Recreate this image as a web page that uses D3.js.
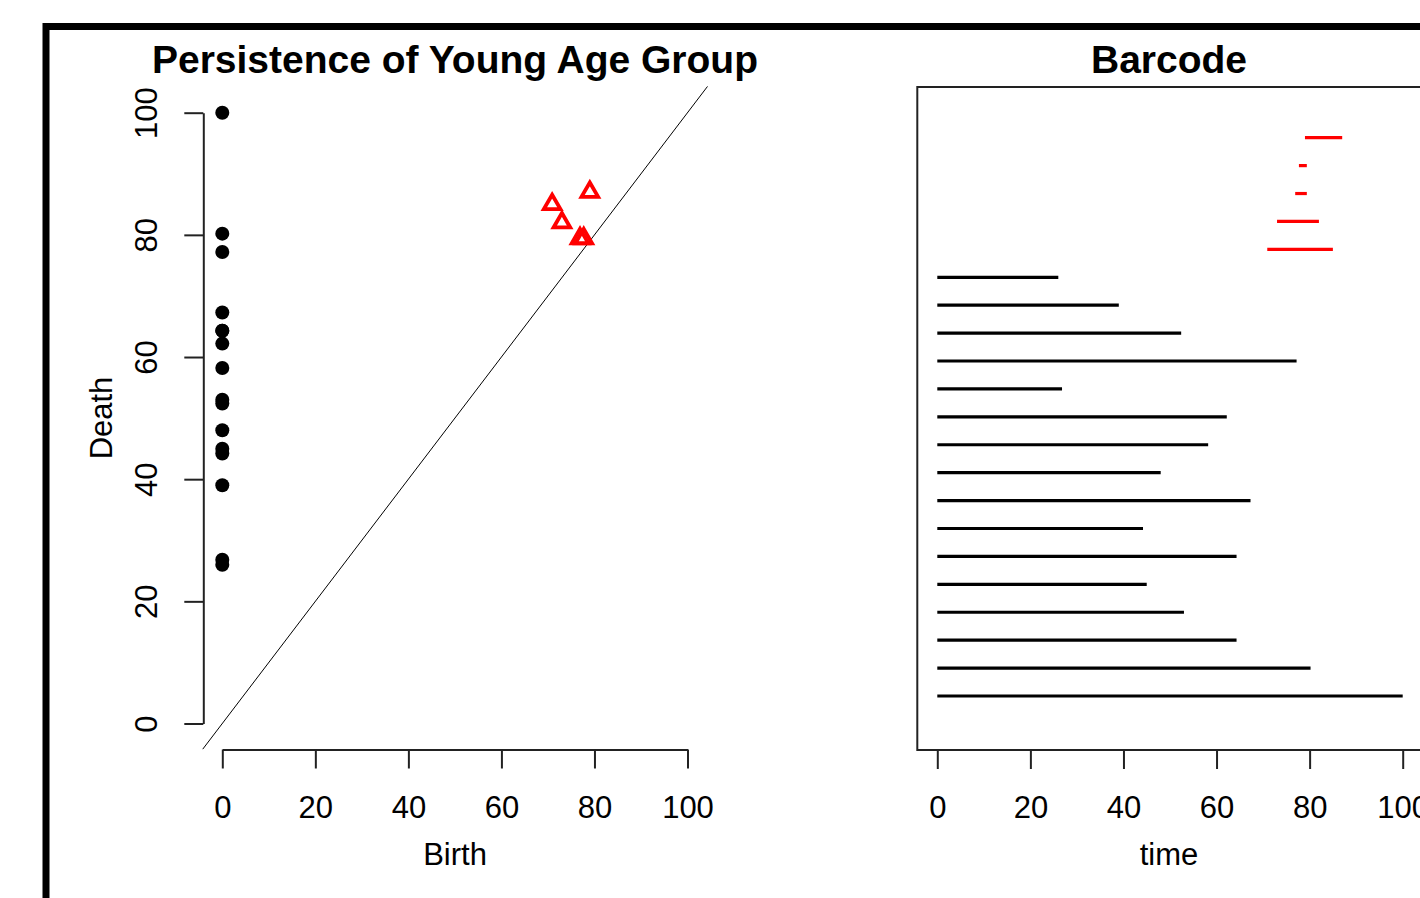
<!DOCTYPE html>
<html>
<head>
<meta charset="utf-8">
<script src="https://cdn.jsdelivr.net/npm/d3@7"></script>
<style>
  body { margin: 0; background: #fff; }
  svg text { font-family: Arial, "Liberation Sans", sans-serif; fill: #000; }
</style>
</head>
<body>
<svg id="chart" width="1420" height="898"></svg>
<script>
// dimension 0 features (all born at 0), in diagram order
const h0Birth = [0, 0, 0, 0, 0, 0, 0, 0, 0, 0, 0, 0, 0, 0, 0, 0];
const h0Death = [100, 80.2, 64.3, 53, 45, 64.3, 44.2, 67.3, 48, 58.2, 62.2, 26.8, 77.2, 52.4, 39, 26];
// dimension 1 features
const h1Birth = [70.9, 73.0, 76.9, 77.7, 79.0];
const h1Death = [85.0, 82.0, 79.4, 79.4, 87.0];
const tickValues = [0, 20, 40, 60, 80, 100];

const h0 = h0Birth.map((b, i) => ({ birth: b, death: h0Death[i], dim: 0 }));
const h1 = h1Birth.map((b, i) => ({ birth: b, death: h1Death[i], dim: 1 }));
const diagram = h0.concat(h1);

const svg = d3.select("#chart");
const red = "#ff0000";

// outer frame of the screenshot
svg.append("rect")
    .attr("x", 46).attr("y", 26.5)
    .attr("width", 1420).attr("height", 900)
    .attr("fill", "none").attr("stroke", "#000").attr("stroke-width", 7);

// ---------- left: persistence diagram ----------
const x = d3.scaleLinear().domain([0, 100]).range([222.3, 687.5]);
const y = d3.scaleLinear().domain([0, 100]).range([723.5, 112.7]);

svg.append("text")
    .attr("x", 455).attr("y", 73)
    .attr("text-anchor", "middle")
    .style("font-size", "39px").style("font-weight", "bold")
    .text("Persistence of Young Age Group");

// diagonal
svg.append("line")
    .attr("x1", x(-4.2)).attr("y1", y(-4.2))
    .attr("x2", x(104.3)).attr("y2", y(104.3))
    .attr("stroke", "#000").attr("stroke-width", 1);

const xAxis = svg.append("g")
    .attr("transform", "translate(0,749.5)")
    .call(d3.axisBottom(x).tickValues(tickValues).tickSizeInner(19).tickSizeOuter(0));
xAxis.selectAll("text").attr("y", 68.5).attr("dy", 0).style("font-size", "31px");

const yAxis = svg.append("g")
    .attr("transform", "translate(203.3,0)")
    .call(d3.axisLeft(y).tickValues(tickValues).tickSizeInner(19).tickSizeOuter(0));
yAxis.selectAll("text")
    .attr("x", 0).attr("dy", 0)
    .attr("text-anchor", "middle")
    .attr("transform", "translate(-46,0) rotate(-90)")
    .style("font-size", "31px");

[xAxis, yAxis].forEach(a => {
  a.selectAll("path, line").attr("stroke", "#222").attr("stroke-width", 2);
});

svg.append("text")
    .attr("x", 455).attr("y", 865)
    .attr("text-anchor", "middle")
    .style("font-size", "31px")
    .text("Birth");

svg.append("text")
    .attr("transform", "translate(112,418) rotate(-90)")
    .attr("text-anchor", "middle")
    .style("font-size", "31px")
    .text("Death");

// H0 points
svg.append("g").selectAll("circle")
    .data(h0)
    .join("circle")
    .attr("cx", d => x(d.birth))
    .attr("cy", d => y(d.death))
    .attr("r", 7)
    .attr("fill", "#000");

// H1 triangles
const tr = 9.6;
const tri = `M0,${-tr}L${tr * Math.sqrt(3) / 2},${tr / 2}L${-tr * Math.sqrt(3) / 2},${tr / 2}Z`;
svg.append("g").selectAll("path")
    .data(h1)
    .join("path")
    .attr("d", tri)
    .attr("transform", d => `translate(${x(d.birth)},${y(d.death)})`)
    .attr("fill", "none")
    .attr("stroke", red)
    .attr("stroke-width", 3.8);

// ---------- right: barcode ----------
const bx = d3.scaleLinear().domain([0, 100]).range([937.3, 1402.7]);
const by = d3.scaleLinear().domain([1, diagram.length]).range([696, 137.7]);

svg.append("text")
    .attr("x", 1169).attr("y", 73)
    .attr("text-anchor", "middle")
    .style("font-size", "39px").style("font-weight", "bold")
    .text("Barcode");

svg.append("rect")
    .attr("x", 917.3).attr("y", 87)
    .attr("width", 600).attr("height", 663)
    .attr("fill", "none").attr("stroke", "#222").attr("stroke-width", 2);

svg.append("g").selectAll("line")
    .data(diagram)
    .join("line")
    .attr("x1", d => bx(d.birth))
    .attr("x2", d => bx(d.death))
    .attr("y1", (d, i) => by(i + 1))
    .attr("y2", (d, i) => by(i + 1))
    .attr("stroke", d => d.dim === 0 ? "#000" : red)
    .attr("stroke-width", 3.2);

const bAxis = svg.append("g")
    .attr("transform", "translate(0,750)")
    .call(d3.axisBottom(bx).tickValues(tickValues).tickSizeInner(19).tickSizeOuter(0));
bAxis.select(".domain").remove();
bAxis.selectAll("line").attr("stroke", "#222").attr("stroke-width", 2);
bAxis.selectAll("text").attr("y", 68).attr("dy", 0).style("font-size", "31px");

svg.append("text")
    .attr("x", 1169).attr("y", 865)
    .attr("text-anchor", "middle")
    .style("font-size", "31px")
    .text("time");
</script>
</body>
</html>
